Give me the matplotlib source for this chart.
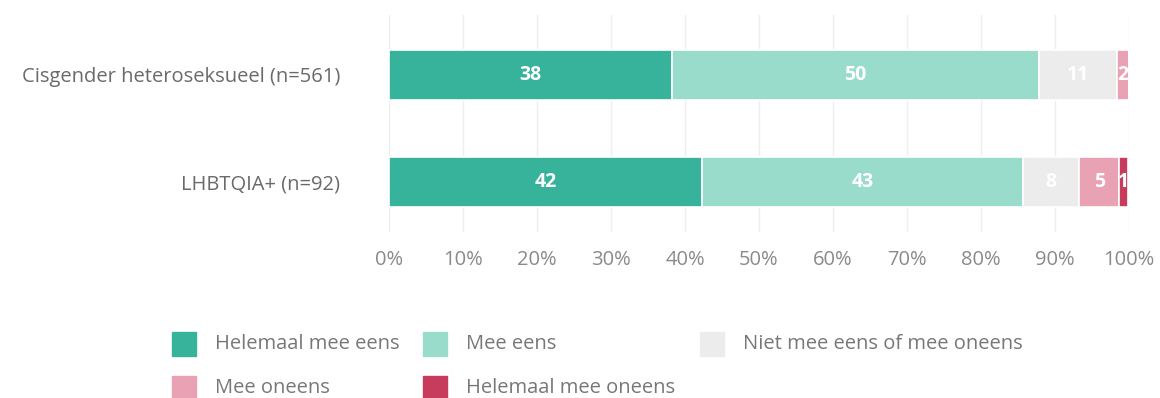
import matplotlib.pyplot as plt
from matplotlib.patches import Rectangle
import numpy as np

plt.rcParams['font.family'] = ['Open Sans', 'DejaVu Sans']

# Survey answers per group (percent)
groups = ["Cisgender heteroseksueel (n=561)", "LHBTQIA+ (n=92)"]
answers = ["Helemaal mee eens", "Mee eens", "Niet mee eens of mee oneens",
           "Mee oneens", "Helemaal mee oneens"]
helemaal_eens = [38.2, 42.3]
mee_eens = [49.6, 43.4]
neutraal = [10.6, 7.6]
mee_oneens = [1.6, 5.4]
helemaal_oneens = [0.0, 1.1]
colors = ["#36b39a", "#9adccc", "#ececec", "#e8a2b3", "#c73b5c"]
xticks = [0, 10, 20, 30, 40, 50, 60, 70, 80, 90, 100]


def main():
    series = [helemaal_eens, mee_eens, neutraal, mee_oneens, helemaal_oneens]

    fig = plt.figure(figsize=(11.6, 3.98), dpi=100)
    ax = fig.add_axes([0.3353, 0.417, 0.638, 0.545])

    y = np.arange(len(groups))
    left = np.zeros(len(groups))
    for vals, col in zip(series, colors):
        vals = np.array(vals)
        ax.barh(y, vals, left=left, height=0.47, color=col,
                edgecolor="white", linewidth=1.2, zorder=3)
        for yi, (l, v) in enumerate(zip(left, vals)):
            if v > 0:
                ax.text(l + v / 2, yi, f"{v:.0f}", ha="center", va="center",
                        color="white", fontsize=14, fontweight="bold",
                        zorder=4)
        left += vals

    ax.set_xlim(0, 100)
    ax.set_ylim(1.47, -0.56)
    ax.set_xticks(xticks)
    ax.set_xticklabels([f"{t}%" for t in xticks], color="#8a8a8a",
                       fontsize=14.5)
    ax.set_yticks(y)
    ax.set_yticklabels(groups, color="#6a6a6a", fontsize=14.5)
    ax.tick_params(length=0)
    ax.tick_params(axis="x", pad=13)
    ax.tick_params(axis="y", pad=35)
    ax.xaxis.grid(True, color="#eeeeee", linewidth=1, zorder=0)
    for s in ax.spines.values():
        s.set_visible(False)

    # legend drawn by hand: square + label, three columns, two rows
    W, H = 1160, 398
    col_x = [172, 423, 700]
    row_y = [344, 388]
    for i, (lab, col) in enumerate(zip(answers, colors)):
        cx = col_x[i % 3]
        cy = row_y[i // 3]
        fig.add_artist(Rectangle((cx / W, 1 - (cy + 12) / H), 24 / W, 24 / H,
                                 color=col, transform=fig.transFigure))
        fig.text((cx + 43) / W, 1 - cy / H, lab, ha="left", va="center",
                 color="#777777", fontsize=14.5)

    fig.savefig("out.png", dpi=100)


if __name__ == "__main__":
    main()
